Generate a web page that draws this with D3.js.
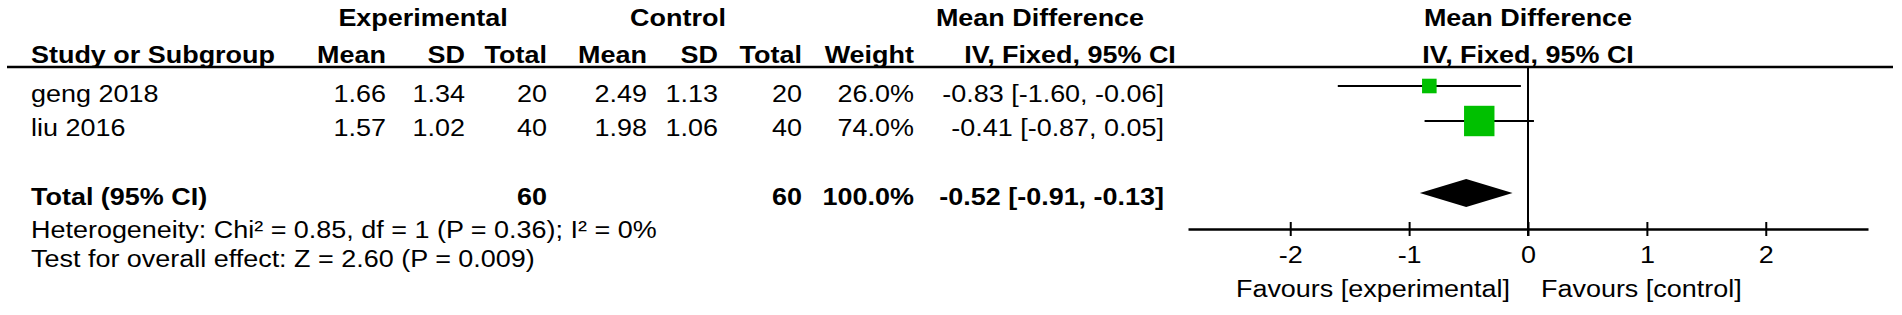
<!DOCTYPE html>
<html>
<head>
<meta charset="utf-8">
<script src="https://cdn.jsdelivr.net/npm/d3@7"></script>
<style>
  body { margin: 0; background: #fff; }
  svg { display: block; font-family: "Liberation Sans", Arial, sans-serif; font-size: 24.5px; fill: #000; }
</style>
</head>
<body>
<div id="chart"></div>
<script>
// Data
const studies = ["geng 2018", "liu 2016"];
const expMean = [1.66, 1.57];
const expSD = [1.34, 1.02];
const expTotal = [20, 40];
const ctrlMean = [2.49, 1.98];
const ctrlSD = [1.13, 1.06];
const ctrlTotal = [20, 40];
const weights = [26.0, 74.0];
const meanDiff = [-0.83, -0.41];
const ciLow = [-1.60, -0.87];
const ciHigh = [-0.06, 0.05];

const totalN = [60, 60];
const totalWeight = 100.0;
const totalMD = [-0.52, -0.91, -0.13]; // estimate, low, high

const tickValues = [-2, -1, 0, 1, 2];
const footnotes = [
    "Heterogeneity: Chi\u00b2 = 0.85, df = 1 (P = 0.36); I\u00b2 = 0%",
    "Test for overall effect: Z = 2.60 (P = 0.009)"
];

// set the dimensions
const width = 1902;
const height = 315;
const SX = 1.1; // the text in the picture is a bit wider than Arial

const svg = d3.select("#chart").append("svg")
    .attr("width", width)
    .attr("height", height);

function label(x, y, s, anchor, bold) {
    return svg.append("text")
        .attr("transform", "translate(" + x + "," + y + ") scale(" + SX + ",1)")
        .attr("text-anchor", anchor || "start")
        .attr("font-weight", bold ? "bold" : null)
        .text(s);
}

// columns (right edges) and rows (baselines)
const col = { study: 31, eMean: 386, eSD: 465, eN: 547, cMean: 647, cSD: 718, cN: 802, weight: 914, ci: 1164 };
const rowY = [102, 136];
const markY = [86, 121];
const totalY = 205, totalMarkY = 193;

const fmt2 = d3.format(".2f");
const fmtMinus = v => fmt2(v).replace("\u2212", "-");

// forest scale
const x = d3.scaleLinear().domain([-2.86, 2.86]).range([1188, 1868]);
const boxSize = d3.scaleLinear().domain([0, 100]).range([6, 39]);

// Header
label(423, 26, "Experimental", "middle", true);
label(678, 26, "Control", "middle", true);
label(1040, 26, "Mean Difference", "middle", true);
label(x(0), 26, "Mean Difference", "middle", true);

label(col.study, 63, "Study or Subgroup", "start", true);
label(col.eMean, 63, "Mean", "end", true);
label(col.eSD, 63, "SD", "end", true);
label(col.eN, 63, "Total", "end", true);
label(col.cMean, 63, "Mean", "end", true);
label(col.cSD, 63, "SD", "end", true);
label(col.cN, 63, "Total", "end", true);
label(col.weight, 63, "Weight", "end", true);
label(1070, 63, "IV, Fixed, 95% CI", "middle", true);
label(x(0), 63, "IV, Fixed, 95% CI", "middle", true);

svg.append("line")
    .attr("x1", 7).attr("x2", 1893)
    .attr("y1", 67).attr("y2", 67)
    .attr("stroke", "#000").attr("stroke-width", 2.5);

// zero line
svg.append("line")
    .attr("x1", x(0)).attr("x2", x(0))
    .attr("y1", 67).attr("y2", 236)
    .attr("stroke", "#000").attr("stroke-width", 2);

// Study rows
studies.forEach((s, i) => {
    label(col.study, rowY[i], s);
    label(col.eMean, rowY[i], fmt2(expMean[i]), "end");
    label(col.eSD, rowY[i], fmt2(expSD[i]), "end");
    label(col.eN, rowY[i], expTotal[i], "end");
    label(col.cMean, rowY[i], fmt2(ctrlMean[i]), "end");
    label(col.cSD, rowY[i], fmt2(ctrlSD[i]), "end");
    label(col.cN, rowY[i], ctrlTotal[i], "end");
    label(col.weight, rowY[i], weights[i].toFixed(1) + "%", "end");
    label(col.ci, rowY[i], fmtMinus(meanDiff[i]) + " [" + fmtMinus(ciLow[i]) + ", " + fmtMinus(ciHigh[i]) + "]", "end");

    svg.append("line")
        .attr("x1", x(ciLow[i])).attr("x2", x(ciHigh[i]))
        .attr("y1", markY[i]).attr("y2", markY[i])
        .attr("stroke", "#000").attr("stroke-width", 2);

    const b = boxSize(weights[i]);
    svg.append("rect")
        .attr("x", x(meanDiff[i]) - b / 2)
        .attr("y", markY[i] - b / 2)
        .attr("width", b).attr("height", b)
        .attr("fill", "#00c000");
});

// Total row
label(col.study, totalY, "Total (95% CI)", "start", true);
label(col.eN, totalY, totalN[0], "end", true);
label(col.cN, totalY, totalN[1], "end", true);
label(col.weight, totalY, totalWeight.toFixed(1) + "%", "end", true);
label(col.ci, totalY, fmtMinus(totalMD[0]) + " [" + fmtMinus(totalMD[1]) + ", " + fmtMinus(totalMD[2]) + "]", "end", true);

const dh = 14;
svg.append("path")
    .attr("d", d3.line()([
        [x(totalMD[1]), totalMarkY],
        [x(totalMD[0]), totalMarkY - dh],
        [x(totalMD[2]), totalMarkY],
        [x(totalMD[0]), totalMarkY + dh]
    ]) + "Z")
    .attr("fill", "#000");

// footnotes
label(col.study, 238, footnotes[0]);
label(col.study, 267, footnotes[1]);

// x axis
const axisY = 229;
const axis = svg.append("g")
    .attr("transform", "translate(0," + axisY + ")")
    .call(d3.axisBottom(x)
        .tickValues(tickValues)
        .tickSizeOuter(0)
        .tickFormat(d => String(d)));

axis.select(".domain").attr("stroke", "#000").attr("stroke-width", 2.5);
axis.selectAll(".tick line")
    .attr("y1", -7).attr("y2", 7)
    .attr("stroke", "#000").attr("stroke-width", 2);
axis.selectAll(".tick text")
    .attr("y", 34).attr("dy", null)
    .attr("transform", "scale(" + SX + ",1)")
    .attr("fill", "#000")
    .style("font-family", "'Liberation Sans', Arial, sans-serif")
    .style("font-size", "24.5px");

// favours labels
label(x(0) - 18, 297, "Favours [experimental]", "end");
label(x(0) + 13, 297, "Favours [control]", "start");
</script>
</body>
</html>
